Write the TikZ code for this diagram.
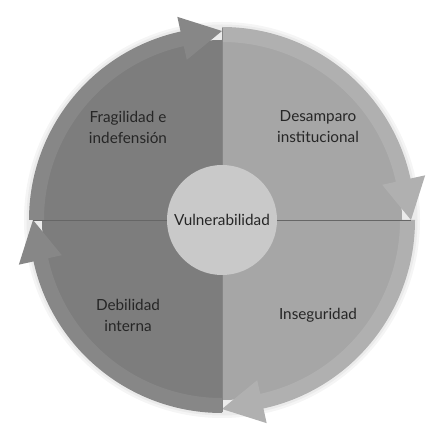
\documentclass[tikz,border=0pt]{standalone}
\usepackage{fontspec}
\setmainfont{Lato}
\definecolor{darkquad}{gray}{0.49}
\definecolor{darkband}{gray}{0.53}
\definecolor{lightquad}{gray}{0.65}
\definecolor{lightband}{gray}{0.69}
\definecolor{hubgray}{gray}{0.79}
\definecolor{linegray}{gray}{0.40}
\definecolor{textgray}{gray}{0.15}

\begin{document}
\begin{tikzpicture}[x=1pt,y=1pt]
        \useasboundingbox (-222,-207) rectangle (204,220);
        % soft halo
        \fill[black, opacity=0.04] (0,0) circle (198);
        \fill[black, opacity=0.04] (0,0) circle (195.5);

        % quadrants
        \fill[darkquad] (0,0) -- (90:180) arc[start angle=90, end angle=270, radius=180] -- cycle;
        \fill[lightquad] (0,0) -- (-90:180) arc[start angle=-90, end angle=90, radius=180] -- cycle;

        % ring arrows, clockwise
        \fill[darkband] (180:193) arc[start angle=180, end angle=102.4, radius=193] -- (102.4:208) -- (90:189) -- (102.4:164) -- (102.4:178) arc[start angle=102.4, end angle=180, radius=178] -- cycle;
        \fill[lightband] (90:193) arc[start angle=90, end angle=12.4, radius=193] -- (12.4:208) -- (0:189) -- (12.4:164) -- (12.4:178) arc[start angle=12.4, end angle=90, radius=178] -- cycle;
        \fill[lightband] (0:193) arc[start angle=0, end angle=-77.6, radius=193] -- (-77.6:208) -- (-90:189) -- (-77.6:164) -- (-77.6:178) arc[start angle=-77.6, end angle=0, radius=178] -- cycle;
        \fill[darkband] (270:193) arc[start angle=270, end angle=192.4, radius=193] -- (192.4:208) -- (180:189) -- (192.4:164) -- (192.4:178) arc[start angle=192.4, end angle=270, radius=178] -- cycle;

        % dividers
        \draw[linegray, line width=0.8pt] (180:189) -- (0:189);
        \draw[linegray!80, line width=0.6pt] (90:192) -- (-90:192);

        \begin{scope}[every node/.style={align=center, text=textgray, font=\fontsize{15.3}{21}\selectfont}]
                \node[circle, fill=hubgray, minimum size=110, inner sep=0] (vulner) at (0,0) {Vulnerabilidad};
                \node (frag) at (-94,93) {Fragilidad e\\indefensión};
                \node (desamp) at (96,93) {Desamparo\\institucional};
                \node (debil) at (-94,-95) {Debilidad\\interna};
                \node (insegur) at (96,-95) {Inseguridad};
        \end{scope}
\end{tikzpicture}
\end{document}
